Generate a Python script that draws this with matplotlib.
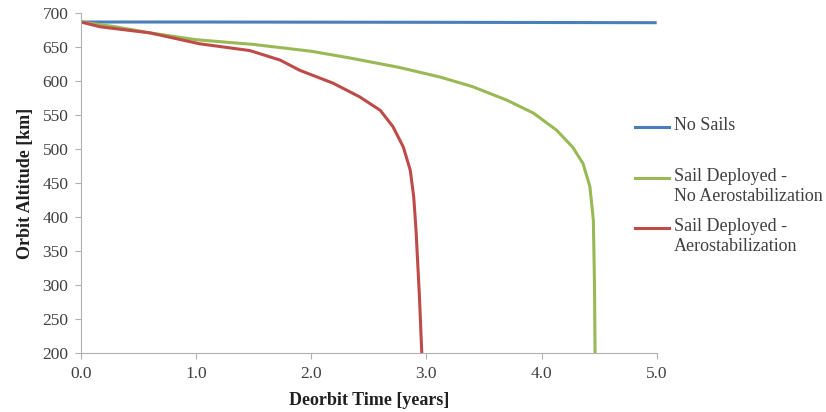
import numpy as np
import matplotlib.pyplot as plt
from matplotlib.lines import Line2D

plt.rcParams['font.family'] = ['Liberation Serif', 'DejaVu Serif']

# no sails: practically flat
t_nosail = [0.0, 1.0, 2.0, 3.0, 4.0, 5.0]
h_nosail = [687, 687, 686.8, 686.6, 686.3, 686]

# sail deployed, no aerostabilization
t_green = [0.0, 0.3, 0.6, 1.0, 1.5, 2.0, 2.34, 2.77, 3.12, 3.4, 3.7, 3.93, 4.13, 4.27,
           4.36, 4.42, 4.45, 4.46, 4.465]
h_green = [687, 680, 671, 661, 654, 644, 634, 620, 606, 592, 572, 553, 528, 503,
           479, 445, 396, 300, 200]

# sail deployed, aerostabilization
t_red = [0.0, 0.165, 0.6, 1.03, 1.467, 1.73, 1.9, 2.19, 2.42, 2.6, 2.71, 2.8, 2.86,
         2.89, 2.91, 2.94, 2.96]
h_red = [687, 680, 671, 655, 645, 631, 616, 597, 577, 557, 533, 503, 469,
         430, 381, 282, 200]

series = [
    (t_nosail, h_nosail, '#4a7ebb', 'No Sails'),
    (t_green, h_green, '#98b954', 'Sail Deployed -\nNo Aerostabilization'),
    (t_red, h_red, '#be4b48', 'Sail Deployed -\nAerostabilization'),
]

fig = plt.figure(figsize=(8.26, 4.12), dpi=100)
ax = fig.add_axes([0.098, 0.143, 0.697, 0.825])

for t, h, c, lab in series:
    ax.plot(t, h, color=c, lw=2.2, label=lab, solid_capstyle='butt')

ax.set_xlim(0, 5)
ax.set_ylim(200, 700)
ax.set_xticks(np.arange(0, 5.01, 1.0))
ax.set_xticklabels([f'{v:.1f}' for v in np.arange(0, 5.01, 1.0)])
ax.set_yticks(np.arange(200, 701, 50))

for s in ['top', 'right']:
    ax.spines[s].set_visible(False)
for s in ['left', 'bottom']:
    ax.spines[s].set_color('#b0b0b0')
ax.tick_params(colors='#b0b0b0', labelcolor='#404040', labelsize=12.5, length=4)
ax.tick_params(axis='x', pad=5.5)
ax.tick_params(axis='y', pad=5)

ax.set_xlabel('Deorbit Time [years]', fontweight='bold', fontsize=13, color='#202020',
              labelpad=7)
ax.set_ylabel('Orbit Altitude [km]', fontweight='bold', fontsize=13, color='#202020',
              labelpad=6)

# legend drawn by hand: key aligned with the first text line like excel does
W, H = 826, 412
key_y = [127, 178, 228]
for (t, h, c, lab), y in zip(series, key_y):
    fig.add_artist(Line2D([635 / W, 669 / W], [1 - y / H, 1 - y / H], color=c, lw=2.2))
    fig.text(674 / W, 1 - (y - 10) / H, lab, fontsize=13, color='#404040',
             va='top', ha='left', linespacing=1.2)

fig.savefig('out.png', dpi=100)
